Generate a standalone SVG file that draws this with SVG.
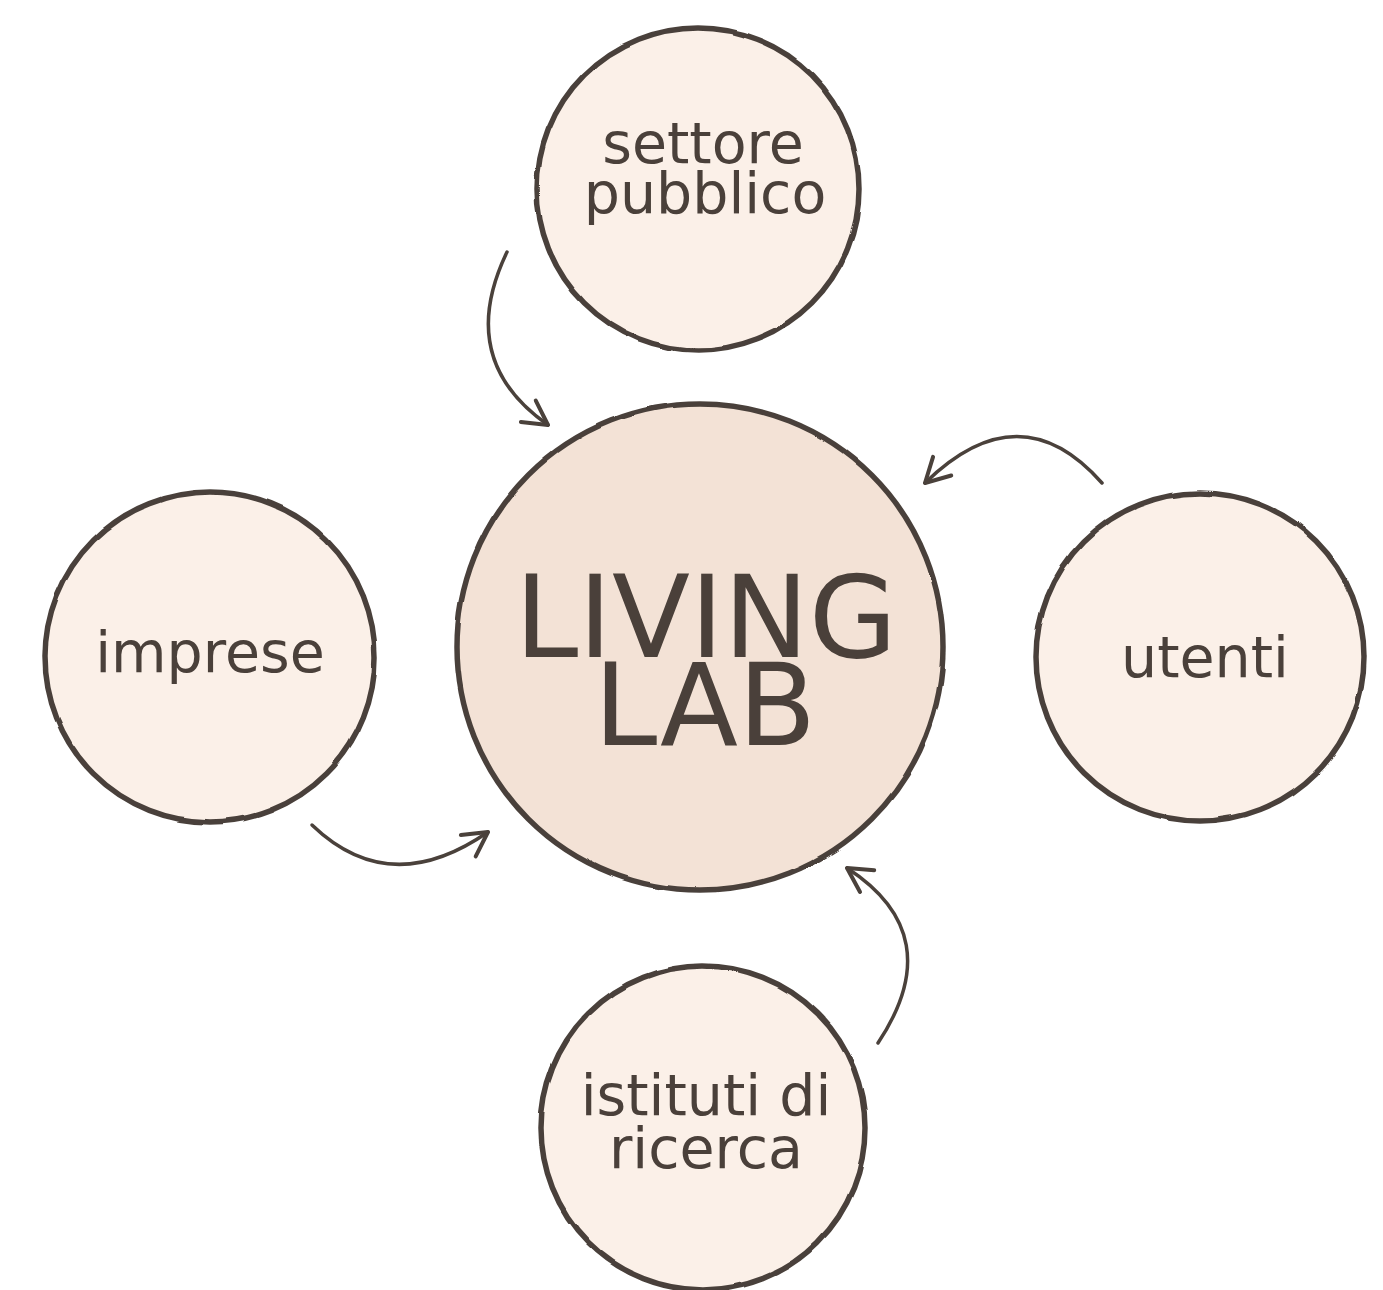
<svg xmlns="http://www.w3.org/2000/svg" width="1383" height="1290" viewBox="0 0 1383 1290">
<style>
.node{stroke:#4a413b;stroke-width:5.5}
.sat{fill:#fbf0e8}
.core{fill:#f3e2d6}
.lbl{font-family:"DejaVu Sans",sans-serif;fill:#4a403a;text-anchor:middle}
.conn{fill:none;stroke:#4a413b;stroke-width:3.5;stroke-linecap:round}
</style>
<defs>
<marker id="ah" viewBox="-30 -20 40 40" refX="0" refY="0" markerWidth="40" markerHeight="40" markerUnits="userSpaceOnUse" orient="auto" overflow="visible">
<path d="M-24,-13 L0,0 L-24,13" fill="none" stroke="#4a413b" stroke-width="4" stroke-linecap="round" stroke-linejoin="round"/>
</marker>
<filter id="rough" x="-5%" y="-5%" width="110%" height="110%">
<feTurbulence type="fractalNoise" baseFrequency="0.025" numOctaves="1" seed="3" result="n"/>
<feDisplacementMap in="SourceGraphic" in2="n" scale="3" xChannelSelector="R" yChannelSelector="G"/>
</filter>
</defs>
<rect width="1383" height="1290" fill="#ffffff"/>
<g id="connectors">
<path class="conn" d="M507,252 Q455,360 548,425" marker-end="url(#ah)"/>
<path class="conn" d="M1102,483 Q1020,390 925,483" marker-end="url(#ah)"/>
<path class="conn" d="M312,825 Q390,900 488,832" marker-end="url(#ah)"/>
<path class="conn" d="M878,1043 Q950,935 847,868" marker-end="url(#ah)"/>
</g>
<g id="node-living-lab">
<circle class="node core" cx="700" cy="647" r="243" filter="url(#rough)"/>
<text class="lbl" x="706" y="657" font-size="114">LIVING</text>
<text class="lbl" x="705" y="745" font-size="114">LAB</text>
</g>
<g id="node-settore-pubblico">
<circle class="node sat" cx="698" cy="189" r="161" filter="url(#rough)"/>
<text class="lbl" x="703" y="163" font-size="57">settore</text>
<text class="lbl" x="705" y="213" font-size="57">pubblico</text>
</g>
<g id="node-imprese">
<circle class="node sat" cx="210" cy="657" r="165" filter="url(#rough)"/>
<text class="lbl" x="210" y="672" font-size="57">imprese</text>
</g>
<g id="node-utenti">
<circle class="node sat" cx="1200" cy="657" r="164" filter="url(#rough)"/>
<text class="lbl" x="1205" y="677" font-size="57">utenti</text>
</g>
<g id="node-istituti">
<circle class="node sat" cx="703" cy="1128" r="162" filter="url(#rough)"/>
<text class="lbl" x="706" y="1115" font-size="57">istituti di</text>
<text class="lbl" x="706" y="1168" font-size="57">ricerca</text>
</g>
</svg>
